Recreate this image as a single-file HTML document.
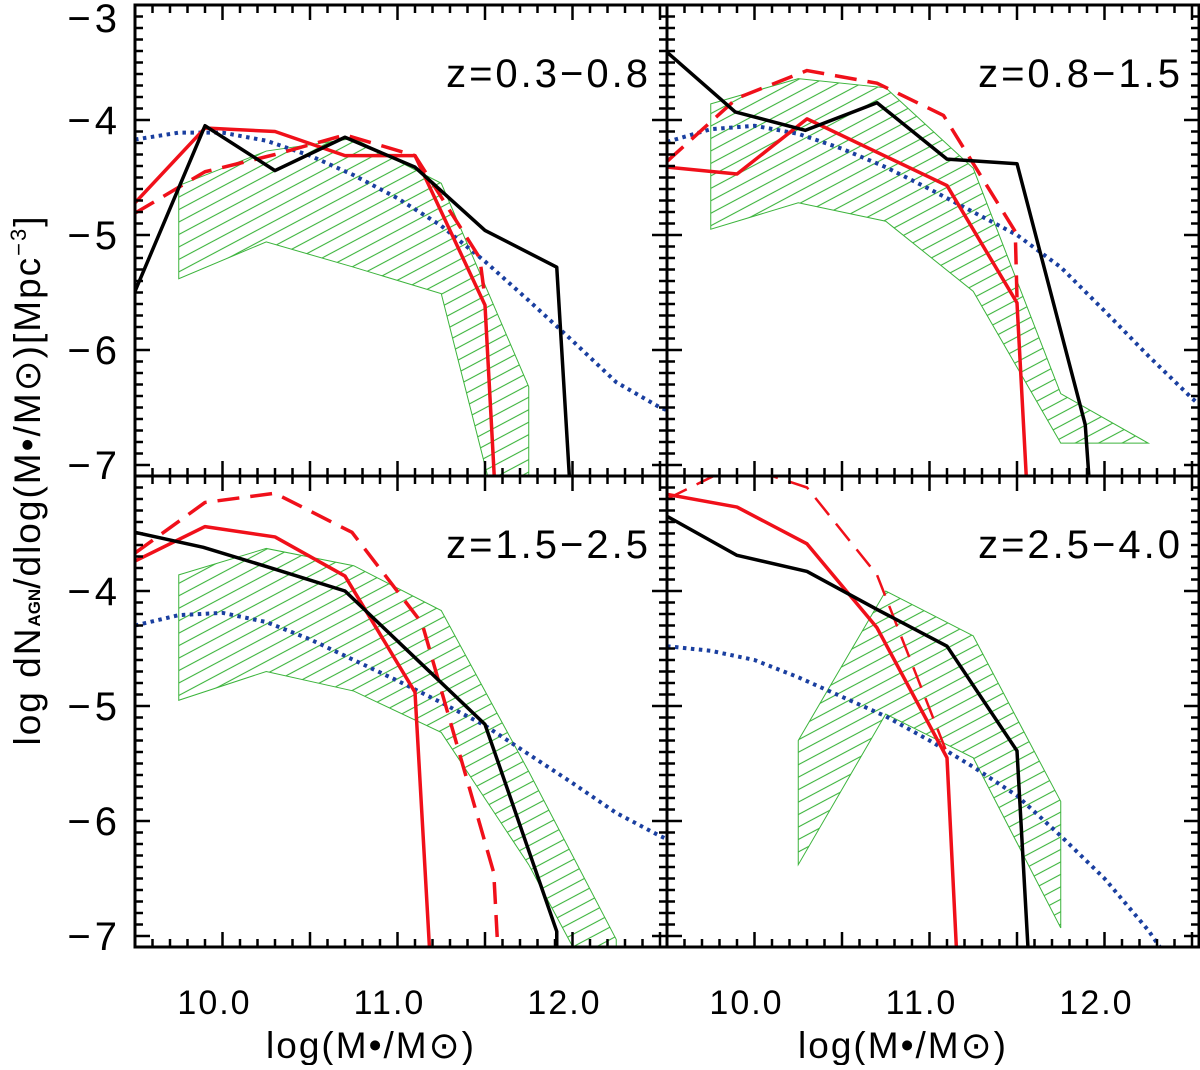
<!DOCTYPE html>
<html><head><meta charset="utf-8"><style>
body{margin:0;background:#fff;}
svg text{font-family:"Liberation Sans",sans-serif;fill:#000;}
</style></head><body>
<svg id="c" width="1200" height="1065" viewBox="0 0 1200 1065" xmlns="http://www.w3.org/2000/svg">
<defs>
<pattern id="hatch" patternUnits="userSpaceOnUse" width="11" height="11" patternTransform="rotate(-28)">
<line x1="0" y1="5" x2="11" y2="5" stroke="#3cb43c" stroke-width="1.1"/>
</pattern>
</defs>
</svg>
<script>
const xBins=[9.5,9.9,10.3,10.7,11.1,11.5,11.9];
const bandX=[9.75,10.25,10.75,11.25,11.75,12.25];
const modelX=[9.5,9.75,10.0,10.25,10.5,10.75,11.0,11.25,11.5,11.75,12.0,12.25,12.5,12.6];
const panelLabels=["z=0.3\u22120.8","z=0.8\u22121.5","z=1.5\u22122.5","z=2.5\u22124.0"];
const yTicks=[-3,-4,-5,-6,-7];
const xTicks=[10,11,12];
const xTickLabels=["10.0","11.0","12.0"];
// panel 1
const black1=[[9.5,-5.49],[9.9,-4.05],[10.3,-4.44],[10.7,-4.15],[11.1,-4.41],[11.5,-4.96],[11.91,-5.28],[11.99,-7.3]];
const red1=[[9.5,-4.72],[9.9,-4.07],[10.3,-4.10],[10.7,-4.31],[11.1,-4.31],[11.5,-5.61],[11.56,-7.3]];
const dash1=[[9.5,-4.81],[9.9,-4.45],[10.3,-4.30],[10.7,-4.13],[11.1,-4.31],[11.47,-5.2],[11.5,-5.55]];
const bandUp1=[-4.57,-4.27,-4.16,-4.55,-6.32,null];
const bandLo1=[-5.38,-5.06,-5.28,-5.51,-8.5,null];
const model1=[-4.17,-4.11,-4.11,-4.18,-4.31,-4.48,-4.68,-4.92,-5.23,-5.57,-5.92,-6.28,-6.5,-6.56];
// panel 2
const black2=[[9.5,-3.41],[9.89,-3.93],[10.29,-4.09],[10.7,-3.85],[11.1,-4.34],[11.5,-4.38],[11.89,-6.65],[11.92,-7.3]];
const red2=[[9.5,-4.41],[9.9,-4.47],[10.3,-3.99],[11.1,-4.57],[11.5,-5.59],[11.56,-7.3]];
const dash2=[[9.5,-4.36],[9.9,-3.81],[10.3,-3.57],[10.7,-3.68],[11.08,-3.96],[11.49,-4.97],[11.5,-5.55]];
const bandUp2=[-3.86,-3.64,-3.72,-4.42,-6.38,-6.81];
const bandLo2=[-4.95,-4.72,-4.88,-5.49,-6.81,-6.81];
const model2=[-4.19,-4.08,-4.05,-4.12,-4.25,-4.41,-4.6,-4.8,-5.0,-5.28,-5.66,-6.05,-6.42,-6.55];
// panel 3
const black3=[[9.5,-3.49],[9.89,-3.62],[10.3,-3.81],[10.7,-4.0],[11.1,-4.58],[11.5,-5.16],[11.91,-6.96],[11.91,-7.3]];
const red3=[[9.5,-3.74],[9.9,-3.44],[10.3,-3.53],[10.7,-3.87],[11.1,-4.88],[11.19,-7.3]];
const dash3=[[9.5,-3.67],[9.9,-3.23],[10.3,-3.15],[10.74,-3.49],[11.14,-4.28],[11.55,-6.45],[11.58,-7.3]];
const bandUp3=[-3.86,-3.63,-3.78,-4.17,-5.57,-7.03];
const bandLo3=[-4.95,-4.70,-4.87,-5.23,-6.38,-7.8];
const model3=[-4.30,-4.21,-4.19,-4.27,-4.42,-4.6,-4.78,-4.97,-5.17,-5.42,-5.67,-5.93,-6.13,-6.2];
// panel 4
const black4=[[9.5,-3.35],[9.9,-3.69],[10.3,-3.83],[10.7,-4.16],[11.1,-4.48],[11.5,-5.39],[11.57,-7.3]];
const red4=[[9.5,-3.16],[9.9,-3.27],[10.3,-3.59],[10.7,-4.32],[11.1,-5.45],[11.16,-7.3]];
const dash4=[[9.5,-3.2],[9.9,-2.9],[10.3,-3.1],[10.7,-3.86],[11.1,-5.41]];
const bandUp4=[null,-5.30,-4.0,-4.39,-5.83,null];
const bandLo4=[null,-6.38,-5.07,-5.45,-6.93,null];
const model4=[-4.48,-4.52,-4.6,-4.75,-4.92,-5.09,-5.3,-5.53,-5.78,-6.13,-6.5,-6.95,-7.5,-7.7];

const NS="http://www.w3.org/2000/svg";
const svg=document.getElementById('c');
const PW=532, PH=471, X0=9.5, XS=175, Y0=-3.0, YS=115;
const panels=[
 {px:135,py:5,black:black1,red:red1,dash:dash1,up:bandUp1,lo:bandLo1,model:model1,dw:3.5},
 {px:667,py:5,black:black2,red:red2,dash:dash2,up:bandUp2,lo:bandLo2,model:model2,dw:3.5},
 {px:135,py:476,black:black3,red:red3,dash:dash3,up:bandUp3,lo:bandLo3,model:model3,dw:3.5},
 {px:667,py:476,black:black4,red:red4,dash:dash4,up:bandUp4,lo:bandLo4,model:model4,dw:2.5}
];
function mk(tag,attrs,parent){const e=document.createElementNS(NS,tag);for(const k in attrs)e.setAttribute(k,attrs[k]);(parent||svg).appendChild(e);return e;}
panels.forEach((p,i)=>{
 const sx=v=>p.px+(v-X0)*XS, sy=v=>p.py+(Y0-v)*YS;
 const cp=mk('clipPath',{id:'cp'+i});
 mk('rect',{x:p.px,y:p.py,width:PW,height:PH},cp);
 const g=mk('g',{'clip-path':'url(#cp'+i+')'});
 
 
 const upPts=[],loPts=[];
 bandX.forEach((x,k)=>{if(p.up[k]!==null){upPts.push(sx(x)+','+sy(p.up[k]));loPts.push(sx(x)+','+sy(p.lo[k]));}});
 const band=mk('polygon',{points:upPts.concat(loPts.reverse()).join(' '),fill:'url(#hatch)',stroke:'#3cb43c','stroke-width':1},g);
 
 
 const model=mk('polyline',{points:modelX.map((x,k)=>sx(x)+','+sy(p.model[k])).join(' '),fill:'none',stroke:'#1a3fa0','stroke-width':4,'stroke-dasharray':'3.5 4.5'},g);
 
 
 const dash=mk('polyline',{points:p.dash.map(d=>sx(d[0])+','+sy(d[1])).join(' '),fill:'none',stroke:'#f0101a','stroke-width':p.dw,'stroke-dasharray':'22 11','stroke-linejoin':'round'},g);
 
 
 const red=mk('polyline',{points:p.red.map(d=>sx(d[0])+','+sy(d[1])).join(' '),fill:'none',stroke:'#f0101a','stroke-width':3.5,'stroke-linejoin':'round'},g);
 
 
 const blk=mk('polyline',{points:p.black.map(d=>sx(d[0])+','+sy(d[1])).join(' '),fill:'none',stroke:'#000','stroke-width':3.5,'stroke-linejoin':'round'},g);
 
 
 const fr=mk('rect',{x:p.px,y:p.py,width:PW,height:PH,fill:'none',stroke:'#000','stroke-width':3});
 
 
 for(let v=95;v<=126;v++){const x=sx(v/10);if(x>p.px+PW)break;const L=(v%5===0)?15:8;
  mk('line',{x1:x,y1:p.py+PH,x2:x,y2:p.py+PH-L,stroke:'#000','stroke-width':2.5});
  mk('line',{x1:x,y1:p.py,x2:x,y2:p.py+L,stroke:'#000','stroke-width':2.5});}
 for(let v=-70;v<=-30;v++){const y=sy(v/10);const L=(v%10===0)?15:8;
  mk('line',{x1:p.px,y1:y,x2:p.px+L,y2:y,stroke:'#000','stroke-width':2.5});
  mk('line',{x1:p.px+PW,y1:y,x2:p.px+PW-L,y2:y,stroke:'#000','stroke-width':2.5});}
 const lab=mk('text',{x:p.px+PW-16,y:p.py+82,'text-anchor':'end','font-size':40,'letter-spacing':3});
 lab.textContent=panelLabels[i];
 
 
 if(i%2===0){
  yTicks.forEach(v=>{if(i===2&&v===-3)return;const off=(v===-3)?(14+13):14;const t=mk('text',{x:p.px-14,y:sy(v)+off,'text-anchor':'end','font-size':40,'letter-spacing':4});t.textContent='\u2212'+(-v);
   
   });
 }
 if(i>=2){
  xTicks.forEach((v,k)=>{const t=mk('text',{x:sx(v)-8,y:1014,'text-anchor':'middle','font-size':34,'letter-spacing':2});t.textContent=xTickLabels[k];
   
   });
  const xt=mk('text',{x:p.px+PW/2-30,y:1058,'text-anchor':'middle','font-size':37,'letter-spacing':2});
  xt.textContent='log(M\u2022/M\u2299)';
  
  
 }
});
const yt=mk('text',{x:0,y:0,'text-anchor':'middle','font-size':37,'letter-spacing':2,transform:'translate(40,480) rotate(-90)'});
yt.innerHTML='log  dN<tspan font-size="17" font-weight="bold" letter-spacing="0">AGN</tspan>/dlog(M\u2022/M\u2299)[Mpc<tspan font-size="22" dy="-14">\u22123</tspan><tspan dy="14">]</tspan>';


</script>
</body></html>
